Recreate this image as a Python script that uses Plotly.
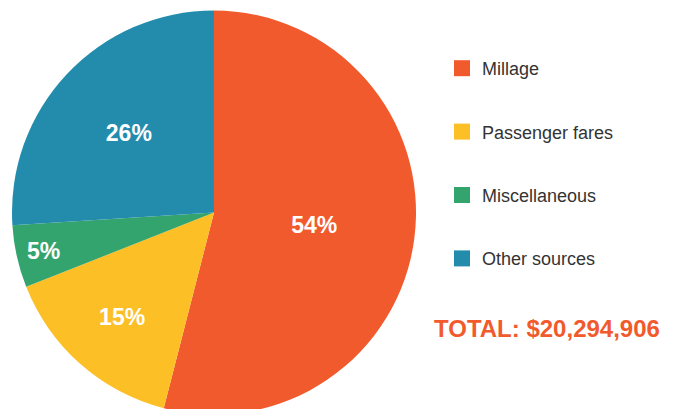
import plotly.graph_objects as go

labels = ["Millage", "Passenger fares", "Miscellaneous", "Other sources"]
values = [54, 15, 5, 26]
colors = ["#F15A2D", "#FCBF26", "#33A46E", "#238CAD"]
total_text = "TOTAL: $20,294,906"

fig = go.Figure()
fig.add_trace(go.Pie(
    labels=labels, values=values, sort=False, direction="clockwise", rotation=0,
    marker=dict(colors=colors, line=dict(width=0)),
    textinfo="percent", texttemplate="%{percent:.0%}",
    textposition="inside", insidetextorientation="horizontal",
    textfont=dict(family="Liberation Sans, Arial, sans-serif", size=23, color="white", weight="bold"),
    domain=dict(x=[4/676, 408/676], y=[0, 1]),
    showlegend=False, hoverinfo="label+percent",
))

for lab, col in zip(labels, colors):
    fig.add_trace(go.Scatter(
        x=[None], y=[None], mode="markers", name=lab, legendgroup=lab,
        marker=dict(symbol="square", size=22, color=col),
    ))

fig.update_layout(
    width=676, height=409,
    margin=dict(l=0, r=0, t=0, b=0),
    paper_bgcolor="white", plot_bgcolor="white",
    xaxis=dict(visible=False), yaxis=dict(visible=False),
    showlegend=True,
    legend=dict(x=434/676, y=1 - 42/409, xanchor="left", yanchor="top",
                font=dict(family="Liberation Sans, Arial, sans-serif", size=18, color="#333333"),
                tracegroupgap=37, bgcolor="rgba(0,0,0,0)"),
    annotations=[dict(text="<b>" + total_text + "</b>", x=539/676, y=1 - 320/409,
                      xref="paper", yref="paper", showarrow=False,
                      xanchor="center", yanchor="middle",
                      font=dict(family="Liberation Sans, Arial, sans-serif", size=24, color="#F15A2D"))],
)

fig.write_html("out.html")
